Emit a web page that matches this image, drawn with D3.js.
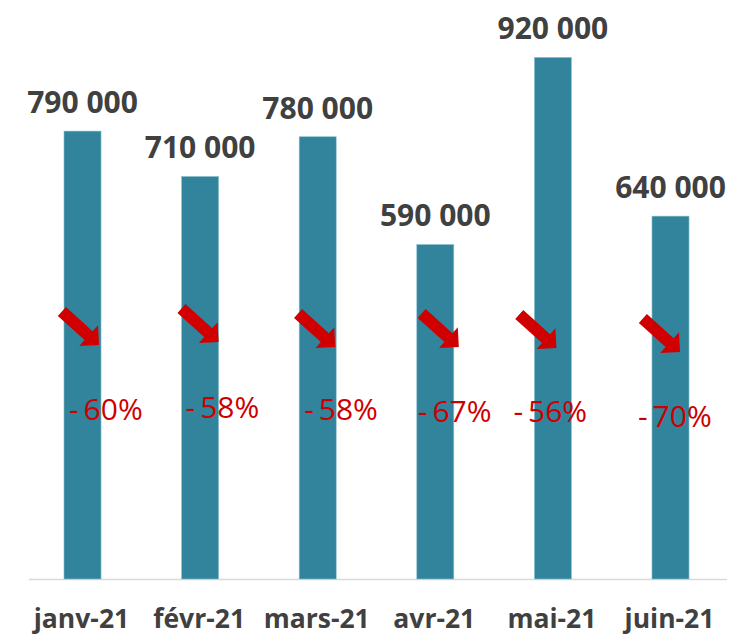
<!DOCTYPE html>
<meta charset="utf-8">
<style>
  body { margin: 0; background: #fff; }
  svg { display: block; }
  .value { font-family: "Open Sans", sans-serif; font-weight: bold; font-size: 30px; fill: #404040; }
  .month { font-family: "Open Sans", sans-serif; font-weight: bold; font-size: 26.5px; fill: #404040; }
  .pct { font-family: "Open Sans", sans-serif; font-size: 30px; fill: #cc0000; }
</style>
<body>
<svg></svg>
<script src="https://d3js.org/d3.v7.min.js"></script>
<script>

// data
var months = ['janv-21', 'févr-21', 'mars-21', 'avr-21', 'mai-21', 'juin-21'];
var values = [790000, 710000, 780000, 590000, 920000, 640000];
var changes = ['-60%', '-58%', '-58%', '-67%', '-56%', '-70%'];

// hand placed annotations wobble a bit in the original
var arrowNudge = [[-2, 0], [0, -3], [-1, 2], [5, 2], [-15, 3], [-9, 7]];
var pctNudge = [[5, 0], [4, -2], [5, 0], [1, 2], [-21, 2], [-14, 7]];

var width = 734, height = 635;
var baseline = 579;

var svg = d3.select('svg')
    .attr('width', width)
    .attr('height', height);

var x = d3.scaleBand()
    .domain(months)
    .range([24, 729])
    .paddingInner(0.685)
    .paddingOuter(0.34);

var y = d3.scaleLinear()
    .domain([0, 1000000])
    .range([baseline, 12]);

var fmt = function(v) { return d3.format(',')(v).replace(/,/g, ' '); };

var data = months.map(function(m, i) {
  return { month: m, value: values[i], change: changes[i], an: arrowNudge[i], pn: pctNudge[i] };
});

// axis line only
svg.append('line')
    .attr('x1', 29).attr('x2', 727)
    .attr('y1', baseline + 0.5).attr('y2', baseline + 0.5)
    .attr('stroke', '#d9d9d9')
    .attr('stroke-width', 1.5);

svg.selectAll('.bar')
    .data(data)
    .enter().append('rect')
    .attr('class', 'bar')
    .attr('x', function(d) { return x(d.month); })
    .attr('width', x.bandwidth())
    .attr('y', function(d) { return y(d.value); })
    .attr('height', function(d) { return baseline - y(d.value); })
    .attr('fill', '#31849b')
    .attr('stroke', '#8fc3d1')
    .attr('stroke-width', 0.6);

svg.selectAll('.value')
    .data(data)
    .enter().append('text')
    .attr('class', 'value')
    .attr('x', function(d) { return x(d.month) + x.bandwidth() / 2; })
    .attr('y', function(d) { return y(d.value) - 18; })
    .attr('text-anchor', 'middle')
    .text(function(d) { return fmt(d.value); });

// x labels
svg.selectAll('.month')
    .data(data)
    .enter().append('text')
    .attr('class', 'month')
    .attr('x', function(d) { return x(d.month) + x.bandwidth() / 2 - 1; })
    .attr('y', 628)
    .attr('text-anchor', 'middle')
    .text(function(d) { return d.month; });

// red arrows, drawn pointing right then rotated
var L = 50, h = 14, w = 6;
var arrowPath = 'M' + (-L) + ',' + (-w) + 'L' + (-h) + ',' + (-w) + 'L' + (-h) + ',' + (-h) +
    'L0,0L' + (-h) + ',' + h + 'L' + (-h) + ',' + w + 'L' + (-L) + ',' + w + 'Z';

svg.selectAll('.arrow')
    .data(data)
    .enter().append('path')
    .attr('class', 'arrow')
    .attr('d', arrowPath)
    .attr('fill', '#d10000')
    .attr('transform', function(d) {
      var tx = x(d.month) + x.bandwidth() + d.an[0];
      var ty = 345 + d.an[1];
      return 'translate(' + tx + ',' + ty + ') rotate(42)';
    });

svg.selectAll('.pct')
    .data(data)
    .enter().append('text')
    .attr('class', 'pct')
    .attr('x', function(d) { return x(d.month) + d.pn[0]; })
    .attr('y', function(d) { return 420 + d.pn[1]; })
    .text(function(d) { return d.change.replace('-', '-\u2009'); });

</script>
</body>
